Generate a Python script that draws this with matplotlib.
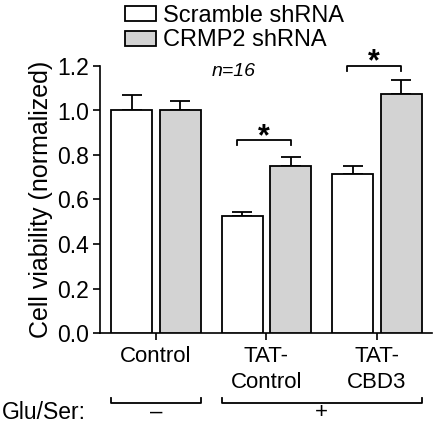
import numpy as np
import matplotlib
matplotlib.use("Agg")
import matplotlib.pyplot as plt
from matplotlib.patches import Patch
import matplotlib.transforms as mtransforms

plt.rcParams['font.family'] = ['Liberation Sans', 'DejaVu Sans']

groups = ['Control', 'TAT-\nControl', 'TAT-\nCBD3']
series = ['Scramble shRNA', 'CRMP2 shRNA']
scramble = [1.0, 0.527, 0.715]
scramble_err = [0.071, 0.018, 0.034]
crmp2 = [1.0, 0.752, 1.073]
crmp2_err = [0.044, 0.038, 0.064]
yticks = [0.0, 0.2, 0.4, 0.6, 0.8, 1.0, 1.2]

W, H = 435, 423
fig = plt.figure(figsize=(W / 100, H / 100), dpi=100)
ax = fig.add_axes([100 / W, (H - 333) / H, (432 - 100) / W, (333 - 66) / H])

x = np.arange(len(groups))
bw = 0.37
off = 0.22
ax.bar(x - off, scramble, bw, color='white', edgecolor='black', linewidth=1.3, zorder=3)
ax.bar(x + off, crmp2, bw, color='#d3d3d3', edgecolor='black', linewidth=1.3, zorder=3)
ax.errorbar(x - off, scramble, yerr=[np.zeros(3), scramble_err], fmt='none',
            ecolor='black', elinewidth=1.3, capsize=7.5, capthick=1.3, zorder=2)
ax.errorbar(x + off, crmp2, yerr=[np.zeros(3), crmp2_err], fmt='none',
            ecolor='black', elinewidth=1.3, capsize=7.5, capthick=1.3, zorder=2)

ax.set_xlim(-0.507, 2.498)
ax.set_ylim(0, 1.2)
ax.set_yticks(yticks)
ax.set_yticklabels([f'{t:.1f}' for t in yticks])
ax.set_xticks(x)
ax.set_xticklabels(groups, fontsize=16, linespacing=1.35)
ax.tick_params(axis='y', labelsize=16.5, length=5, width=1.2, direction='out', pad=3)
ax.tick_params(axis='x', length=5, width=1.2, direction='out', pad=4)
for s in ['top', 'right']:
    ax.spines[s].set_visible(False)
for s in ['left', 'bottom']:
    ax.spines[s].set_linewidth(1.2)
ax.set_ylabel('Cell viability (normalized)', fontsize=18, labelpad=3)

# significance brackets
for gi, yb, ys in [(1, 0.867, 0.882), (2, 1.2, 1.218)]:
    x1, x2 = gi - 0.27, gi + 0.22
    ax.plot([x1, x1, x2, x2], [yb - 0.022, yb, yb, yb - 0.022], color='black',
            lw=1.3, clip_on=False)
    ax.text((x1 + x2) / 2, ys, '*', ha='center', va='center', fontsize=22,
            fontweight='bold', clip_on=False)

ax.text(0.70, 1.175, 'n=16', ha='center', va='center', fontsize=14, style='italic')

# treatment brackets below axis
trans = mtransforms.blended_transform_factory(ax.transData, fig.transFigure)
yl = (H - 403) / H
tk = 5 / H
for x1, x2, lab in [(0 - off - bw / 2, 0 + off + bw / 2, '\u2013'),
                    (1 - off - bw / 2, 2 + off + bw / 2, '+')]:
    ax.plot([x1, x1, x2, x2], [yl + tk, yl, yl, yl + tk], color='black', lw=1.3,
            transform=trans, clip_on=False)
    ax.text((x1 + x2) / 2, (H - 412) / H, lab, ha='center', va='center',
            fontsize=16, transform=trans)
fig.text(2 / W, (H - 412) / H, 'Glu/Ser:', ha='left', va='center', fontsize=16.5)

handles = [Patch(facecolor='white', edgecolor='black', linewidth=1.3),
           Patch(facecolor='#d3d3d3', edgecolor='black', linewidth=1.3)]
fig.legend(handles, series, loc='upper left', bbox_to_anchor=(125 / W, 1 - 5 / H),
           frameon=False, fontsize=17, handlelength=1.3, handleheight=0.6,
           handletextpad=0.3, labelspacing=0.1, borderpad=0, borderaxespad=0)

fig.savefig('out.png', dpi=100)
